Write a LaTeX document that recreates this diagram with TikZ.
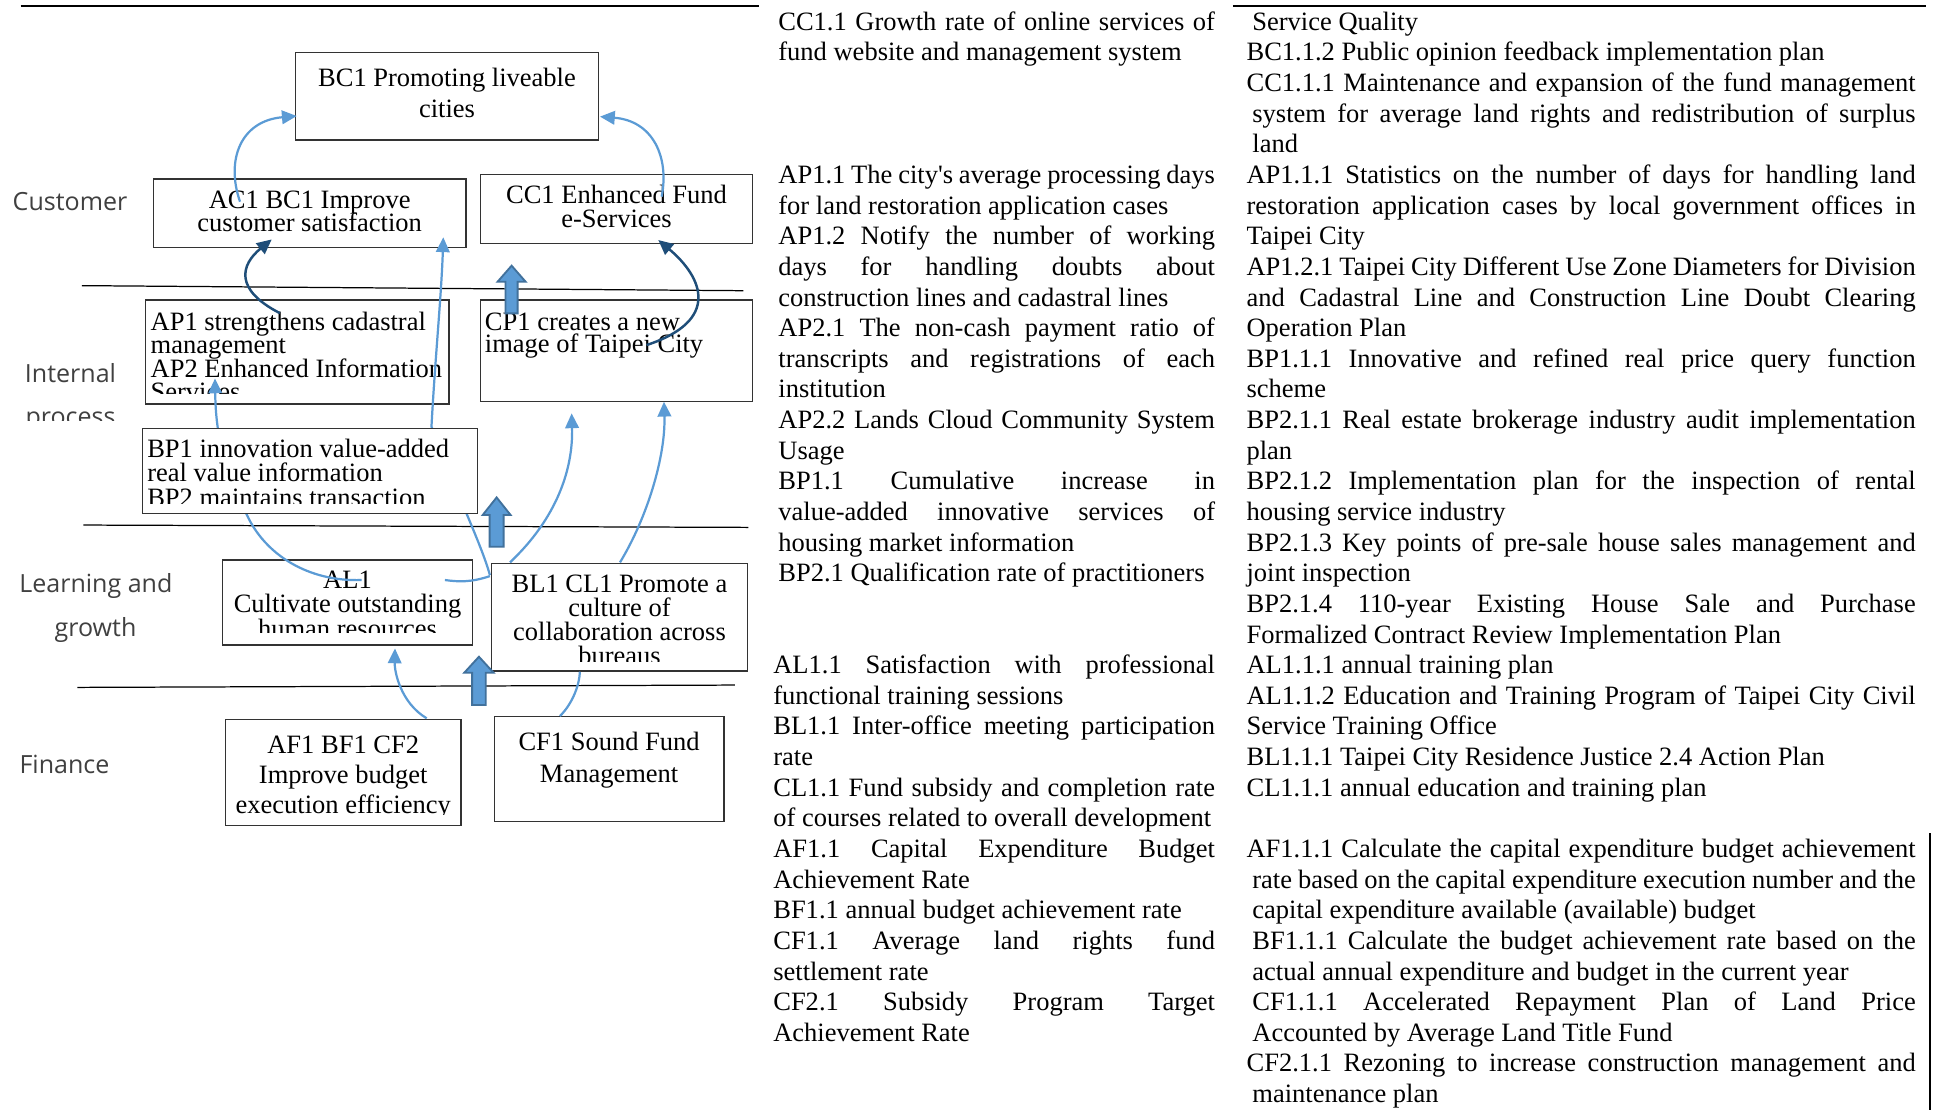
\documentclass[tikz,border=0pt]{standalone}
\usepackage{fontspec}
\setmainfont{Liberation Serif}
\newfontfamily\labfont{Open Sans}
\usetikzlibrary{arrows.meta}
\definecolor{lblue}{HTML}{5B9BD5}
\definecolor{dblue}{HTML}{1F4E79}
\definecolor{bfill}{HTML}{5B9BD5}
\definecolor{bdraw}{HTML}{41719C}
\definecolor{boxline}{HTML}{333333}
\definecolor{labgray}{HTML}{404040}
\newcommand\Jline[5]{\node[txt] (#1) at (#2,{24.6+#3*24.85}) {\makebox[#4pt][s]{#5}};}
\newcommand\Lline[4]{\node[txt] (#1) at (#2,{24.6+#3*24.85}) {#4};}
\begin{document}
\begin{tikzpicture}[x=1pt,y=-1pt,
  box/.style={draw=boxline, line width=1.1pt, fill=white, inner sep=0pt, outer sep=0pt, anchor=north west},
  txt/.style={inner sep=0pt, outer sep=0pt, anchor=base west, font=\fontsize{21.5pt}{24.85pt}\selectfont},
  ctxt/.style={txt, anchor=base},
  lab/.style={inner sep=0pt, outer sep=0pt, anchor=base, text=labgray, font=\labfont\fontsize{20.3pt}{24pt}\selectfont},
  sepline/.style={draw=black, line width=1pt},
  lb/.style={draw=lblue, line width=1.8pt, -{Triangle[length=12pt,width=11pt]}},
  lbn/.style={draw=lblue, line width=1.8pt},
  db/.style={draw=dblue, line width=2pt, -{Triangle[length=12pt,width=11pt]}},
  blk/.style={fill=bfill, draw=bdraw, line width=1.5pt, line join=miter}
]
\fill[white] (0,0) rectangle (1568,900);
\useasboundingbox (0,0) rectangle (1568,900);

% frame lines
\draw[line width=1.6pt] (16.8,4.6) -- (615.7,4.6);
\draw[line width=1.6pt] (1000,4.8) -- (1562,4.8);
\draw[line width=1.8pt] (1565.6,676) -- (1565.6,900);

% separators
\draw[sepline] (66.5,231.7) -- (603,235.8);
\draw[sepline] (67.6,425.9) -- (607,427.8);
\draw[sepline] (62.7,557.6) -- (596.2,555.7);

% perspective labels
\node[lab] (lcust) at (56.8,170.4) {Customer};
\node[lab] (lint) at (57.2,310.4) {Internal};
\begin{scope}
\clip (0,318) rectangle (112,341.3);
\node[lab] (lproc) at (57.2,344.9) {process};
\end{scope}
\node[lab] (llearn) at (77.8,480.8) {Learning and};
\node[lab] (lgrow) at (77.5,515.9) {growth};
\node[lab] (lfin) at (52.3,627.4) {Finance};

% boxes (below arrows)
\node[box, minimum width=246pt, minimum height=71.1pt] (bc1) at (239.6,42.5) {};
\node[box, minimum width=253.6pt, minimum height=55.4pt] (ac1) at (124.4,145.2) {};
\node[box, minimum width=220.4pt, minimum height=56pt] (cc1) at (389.9,141.4) {};
\node[box, minimum width=246pt, minimum height=84.3pt] (ap) at (118.2,243.4) {};
\node[box, minimum width=220.4pt, minimum height=82.5pt] (cp) at (389.9,243.4) {};
\node[box, minimum width=202.5pt, minimum height=69pt] (al) at (180.6,454.3) {};
\node[box, minimum width=207.4pt, minimum height=87.3pt] (bl) at (398.8,457) {};
\node[box, minimum width=191.1pt, minimum height=86.2pt] (af) at (182.8,583.6) {};
\node[box, minimum width=186.3pt, minimum height=85.2pt] (cf) at (401,581.4) {};

% box texts
\node[ctxt] (bc1a) at (362.6,70.3) {BC1 Promoting liveable};
\node[ctxt] (bc1b) at (362.6,95.5) {cities};
\node[ctxt] (ac1a) at (251.2,169) {AC1 BC1 Improve};
\node[ctxt] (ac1b) at (251.2,188) {customer satisfaction};
\node[ctxt] (cc1a) at (500.1,165) {CC1 Enhanced Fund};
\node[ctxt] (cc1b) at (500.1,184.7) {e-Services};
\begin{scope}
\clip (118.2,243.4) rectangle (364.2,319.2);
\node[txt] (apa) at (122.2,267.7) {AP1 strengthens cadastral};
\node[txt] (apb) at (122.2,286.8) {management};
\node[txt] (apc) at (122.2,306) {AP2 Enhanced Information};
\node[txt] (apd) at (122.2,325.2) {Services};
\end{scope}
\node[txt] (cpa) at (393.4,267.7) {CP1 creates a new};
\node[txt] (cpb) at (393.4,286.1) {image of Taipei City};
\begin{scope}
\clip (180.6,454.3) rectangle (383.1,513);
\node[ctxt] (ala) at (281.9,477.3) {AL1};
\node[ctxt] (alb) at (281.9,496.8) {Cultivate outstanding};
\node[ctxt] (alc) at (281.9,517) {human resources};
\end{scope}
\begin{scope}
\clip (398.8,457) rectangle (606.2,536.8);
\node[ctxt] (bla) at (502.5,480.8) {BL1 CL1 Promote a};
\node[ctxt] (blb) at (502.5,500.3) {culture of};
\node[ctxt] (blc) at (502.5,519.8) {collaboration across};
\node[ctxt] (bld) at (502.5,539.3) {bureaus};
\end{scope}
\begin{scope}
\clip (182.8,583.6) rectangle (373.9,660.3);
\node[ctxt] (afa) at (278.4,611.1) {AF1 BF1 CF2};
\node[ctxt] (afb) at (278.4,635.6) {Improve budget};
\node[ctxt] (afc) at (278.4,660.2) {execution efficiency};
\end{scope}
\node[ctxt] (cfa) at (494.1,608.4) {CF1 Sound Fund};
\node[ctxt] (cfb) at (494.1,634.6) {Management};

% connector end points
\coordinate (a1s) at (194.7,163.6); \coordinate (a1e) at (240.7,94.1);
\coordinate (a2s) at (536.7,159.5); \coordinate (a2e) at (486.7,94.6);
\coordinate (a3s) at (227,254);     \coordinate (a3e) at (220.4,194.2);
\coordinate (a7s) at (524.5,279.9); \coordinate (a7e) at (534,194.7);
\coordinate (a4s) at (397.4,466.5); \coordinate (a4e) at (359.6,192.5);
\coordinate (a5s) at (397.4,467.3); \coordinate (a5m) at (360.9,470.5);
\coordinate (a5n) at (293.4,470.5); \coordinate (a5e) at (174.4,307);
\coordinate (a6s) at (413.7,456.2); \coordinate (a6e) at (463.7,335.3);
\coordinate (a8s) at (502.9,456.2); \coordinate (a8e) at (538.6,325.9);
\coordinate (a9s) at (346.1,582.7); \coordinate (a9e) at (320.4,526);
\coordinate (a10s) at (454.2,580.9); \coordinate (a10e) at (470.4,544.9);

% connectors
\draw[lb] (a1s) .. controls (183,130) and (195,98) .. (a1e);
\draw[lb] (a2s) .. controls (543,128) and (530,98) .. (a2e);
\draw[db] (a3s) .. controls (190,235) and (195,215) .. (a3e);
\draw[db] (a7s) .. controls (585,260) and (570,225) .. (a7e);
\draw[lb] (a4s) .. controls (390,440) and (370,400) .. (350,346) .. controls (353,290) and (358,240) .. (a4e);
\draw[lbn] (a5s) .. controls (382,472.5) and (372,472) .. (a5m);
\draw[lb] (a5n) .. controls (250,472) and (215,450) .. (200.1,417.3) .. controls (180,375) and (175,350) .. (a5e);
\draw[lb] (a6s) .. controls (452,420) and (465,380) .. (a6e);
\draw[lb] (a8s) .. controls (525,420) and (540,370) .. (a8e);
\draw[lb] (a9s) .. controls (325,570) and (320,545) .. (a9e);
\draw[lbn] (a10s) .. controls (465,570) and (470,555) .. (a10e);

% block arrows
\draw[blk] (415,215.5) -- (426.35,228.5) -- (419.9,228.5) -- (419.9,254.2) -- (410.1,254.2) -- (410.1,228.5) -- (403.65,228.5) -- cycle;
\draw[blk] (402.85,403.5) -- (414.2,417.8) -- (408.55,417.8) -- (408.55,443.5) -- (397.15,443.5) -- (397.15,417.8) -- (391.5,417.8) -- cycle;
\draw[blk] (388.5,532.7) -- (400.4,545.7) -- (394.05,545.7) -- (394.05,571.9) -- (382.95,571.9) -- (382.95,545.7) -- (376.6,545.7) -- cycle;

% BP box on top
\node[box, minimum width=271.7pt, minimum height=68.9pt] (bp) at (115.7,347.5) {};
\begin{scope}
\clip (115.7,347.5) rectangle (387.4,408.3);
\node[txt] (bpa) at (119.5,371) {BP1 innovation value-added};
\node[txt] (bpb) at (119.5,390.8) {real value information};
\node[txt] (bpc) at (119.5,410.6) {BP2 maintains transaction};
\end{scope}

% middle column
\Jline{m0}{631.4}{0}{354.2}{CC1.1 Growth rate of online services of}
\Lline{m1}{631.4}{1}{fund website and management system}
\Jline{m5}{631.4}{5}{354.2}{AP1.1 The city\textquotesingle s average processing days}
\Lline{m6}{631.4}{6}{for land restoration application cases}
\Jline{m7}{631.4}{7}{354.2}{AP1.2 Notify the number of working}
\Jline{m8}{631.4}{8}{354.2}{days for handling doubts about}
\Lline{m9}{631.4}{9}{construction lines and cadastral lines}
\Jline{m10}{631.4}{10}{354.2}{AP2.1 The non-cash payment ratio of}
\Jline{m11}{631.4}{11}{354.2}{transcripts and registrations of each}
\Lline{m12}{631.4}{12}{institution}
\Jline{m13}{631.4}{13}{354.2}{AP2.2 Lands Cloud Community System}
\Lline{m14}{631.4}{14}{Usage}
\Jline{m15}{631.4}{15}{354.2}{BP1.1 Cumulative increase in}
\Jline{m16}{631.4}{16}{354.2}{value-added innovative services of}
\Lline{m17}{631.4}{17}{housing market information}
\Lline{m18}{631.4}{18}{BP2.1 Qualification rate of practitioners}
\Jline{m21}{627.3}{21}{358.3}{AL1.1 Satisfaction with professional}
\Lline{m22}{627.3}{22}{functional training sessions}
\Jline{m23}{627.3}{23}{358.3}{BL1.1 Inter-office meeting participation}
\Lline{m24}{627.3}{24}{rate}
\Jline{m25}{627.3}{25}{358.3}{CL1.1 Fund subsidy and completion rate}
\Lline{m26}{627.3}{26}{of courses related to overall development}
\Jline{m27}{627.3}{27}{358.3}{AF1.1 Capital Expenditure Budget}
\Lline{m28}{627.3}{28}{Achievement Rate}
\Lline{m29}{627.3}{29}{BF1.1 annual budget achievement rate}
\Jline{m30}{627.3}{30}{358.3}{CF1.1 Average land rights fund}
\Lline{m31}{627.3}{31}{settlement rate}
\Jline{m32}{627.3}{32}{358.3}{CF2.1 Subsidy Program Target}
\Lline{m33}{627.3}{33}{Achievement Rate}

% right column
\Lline{r0}{1015.9}{0}{Service Quality}
\Lline{r1}{1011.2}{1}{BC1.1.2 Public opinion feedback implementation plan}
\Jline{r2}{1011.2}{2}{542.8}{CC1.1.1 Maintenance and expansion of the fund management}
\Jline{r3}{1015.9}{3}{538.1}{system for average land rights and redistribution of surplus}
\Lline{r4}{1015.9}{4}{land}
\Jline{r5}{1011.2}{5}{542.8}{AP1.1.1 Statistics on the number of days for handling land}
\Jline{r6}{1011.2}{6}{542.8}{restoration application cases by local government offices in}
\Lline{r7}{1011.2}{7}{Taipei City}
\Jline{r8}{1011.2}{8}{542.8}{AP1.2.1 Taipei City Different Use Zone Diameters for Division}
\Jline{r9}{1011.2}{9}{542.8}{and Cadastral Line and Construction Line Doubt Clearing}
\Lline{r10}{1011.2}{10}{Operation Plan}
\Jline{r11}{1011.2}{11}{542.8}{BP1.1.1 Innovative and refined real price query function}
\Lline{r12}{1011.2}{12}{scheme}
\Jline{r13}{1011.2}{13}{542.8}{BP2.1.1 Real estate brokerage industry audit implementation}
\Lline{r14}{1011.2}{14}{plan}
\Jline{r15}{1011.2}{15}{542.8}{BP2.1.2 Implementation plan for the inspection of rental}
\Lline{r16}{1011.2}{16}{housing service industry}
\Jline{r17}{1011.2}{17}{542.8}{BP2.1.3 Key points of pre-sale house sales management and}
\Lline{r18}{1011.2}{18}{joint inspection}
\Jline{r19}{1011.2}{19}{542.8}{BP2.1.4 110-year Existing House Sale and Purchase}
\Lline{r20}{1011.2}{20}{Formalized Contract Review Implementation Plan}
\Lline{r21}{1011.2}{21}{AL1.1.1 annual training plan}
\Jline{r22}{1011.2}{22}{542.8}{AL1.1.2 Education and Training Program of Taipei City Civil}
\Lline{r23}{1011.2}{23}{Service Training Office}
\Lline{r24}{1011.2}{24}{BL1.1.1 Taipei City Residence Justice 2.4 Action Plan}
\Lline{r25}{1011.2}{25}{CL1.1.1 annual education and training plan}
\Jline{r27}{1011.2}{27}{542.8}{AF1.1.1 Calculate the capital expenditure budget achievement}
\Jline{r28}{1015.9}{28}{538.1}{rate based on the capital expenditure execution number and the}
\Lline{r29}{1015.9}{29}{capital expenditure available (available) budget}
\Jline{r30}{1015.9}{30}{538.1}{BF1.1.1 Calculate the budget achievement rate based on the}
\Lline{r31}{1015.9}{31}{actual annual expenditure and budget in the current year}
\Jline{r32}{1015.9}{32}{538.1}{CF1.1.1 Accelerated Repayment Plan of Land Price}
\Lline{r33}{1015.9}{33}{Accounted by Average Land Title Fund}
\Jline{r34}{1011.2}{34}{542.8}{CF2.1.1 Rezoning to increase construction management and}
\Lline{r35}{1015.9}{35}{maintenance plan}
\end{tikzpicture}
\end{document}
